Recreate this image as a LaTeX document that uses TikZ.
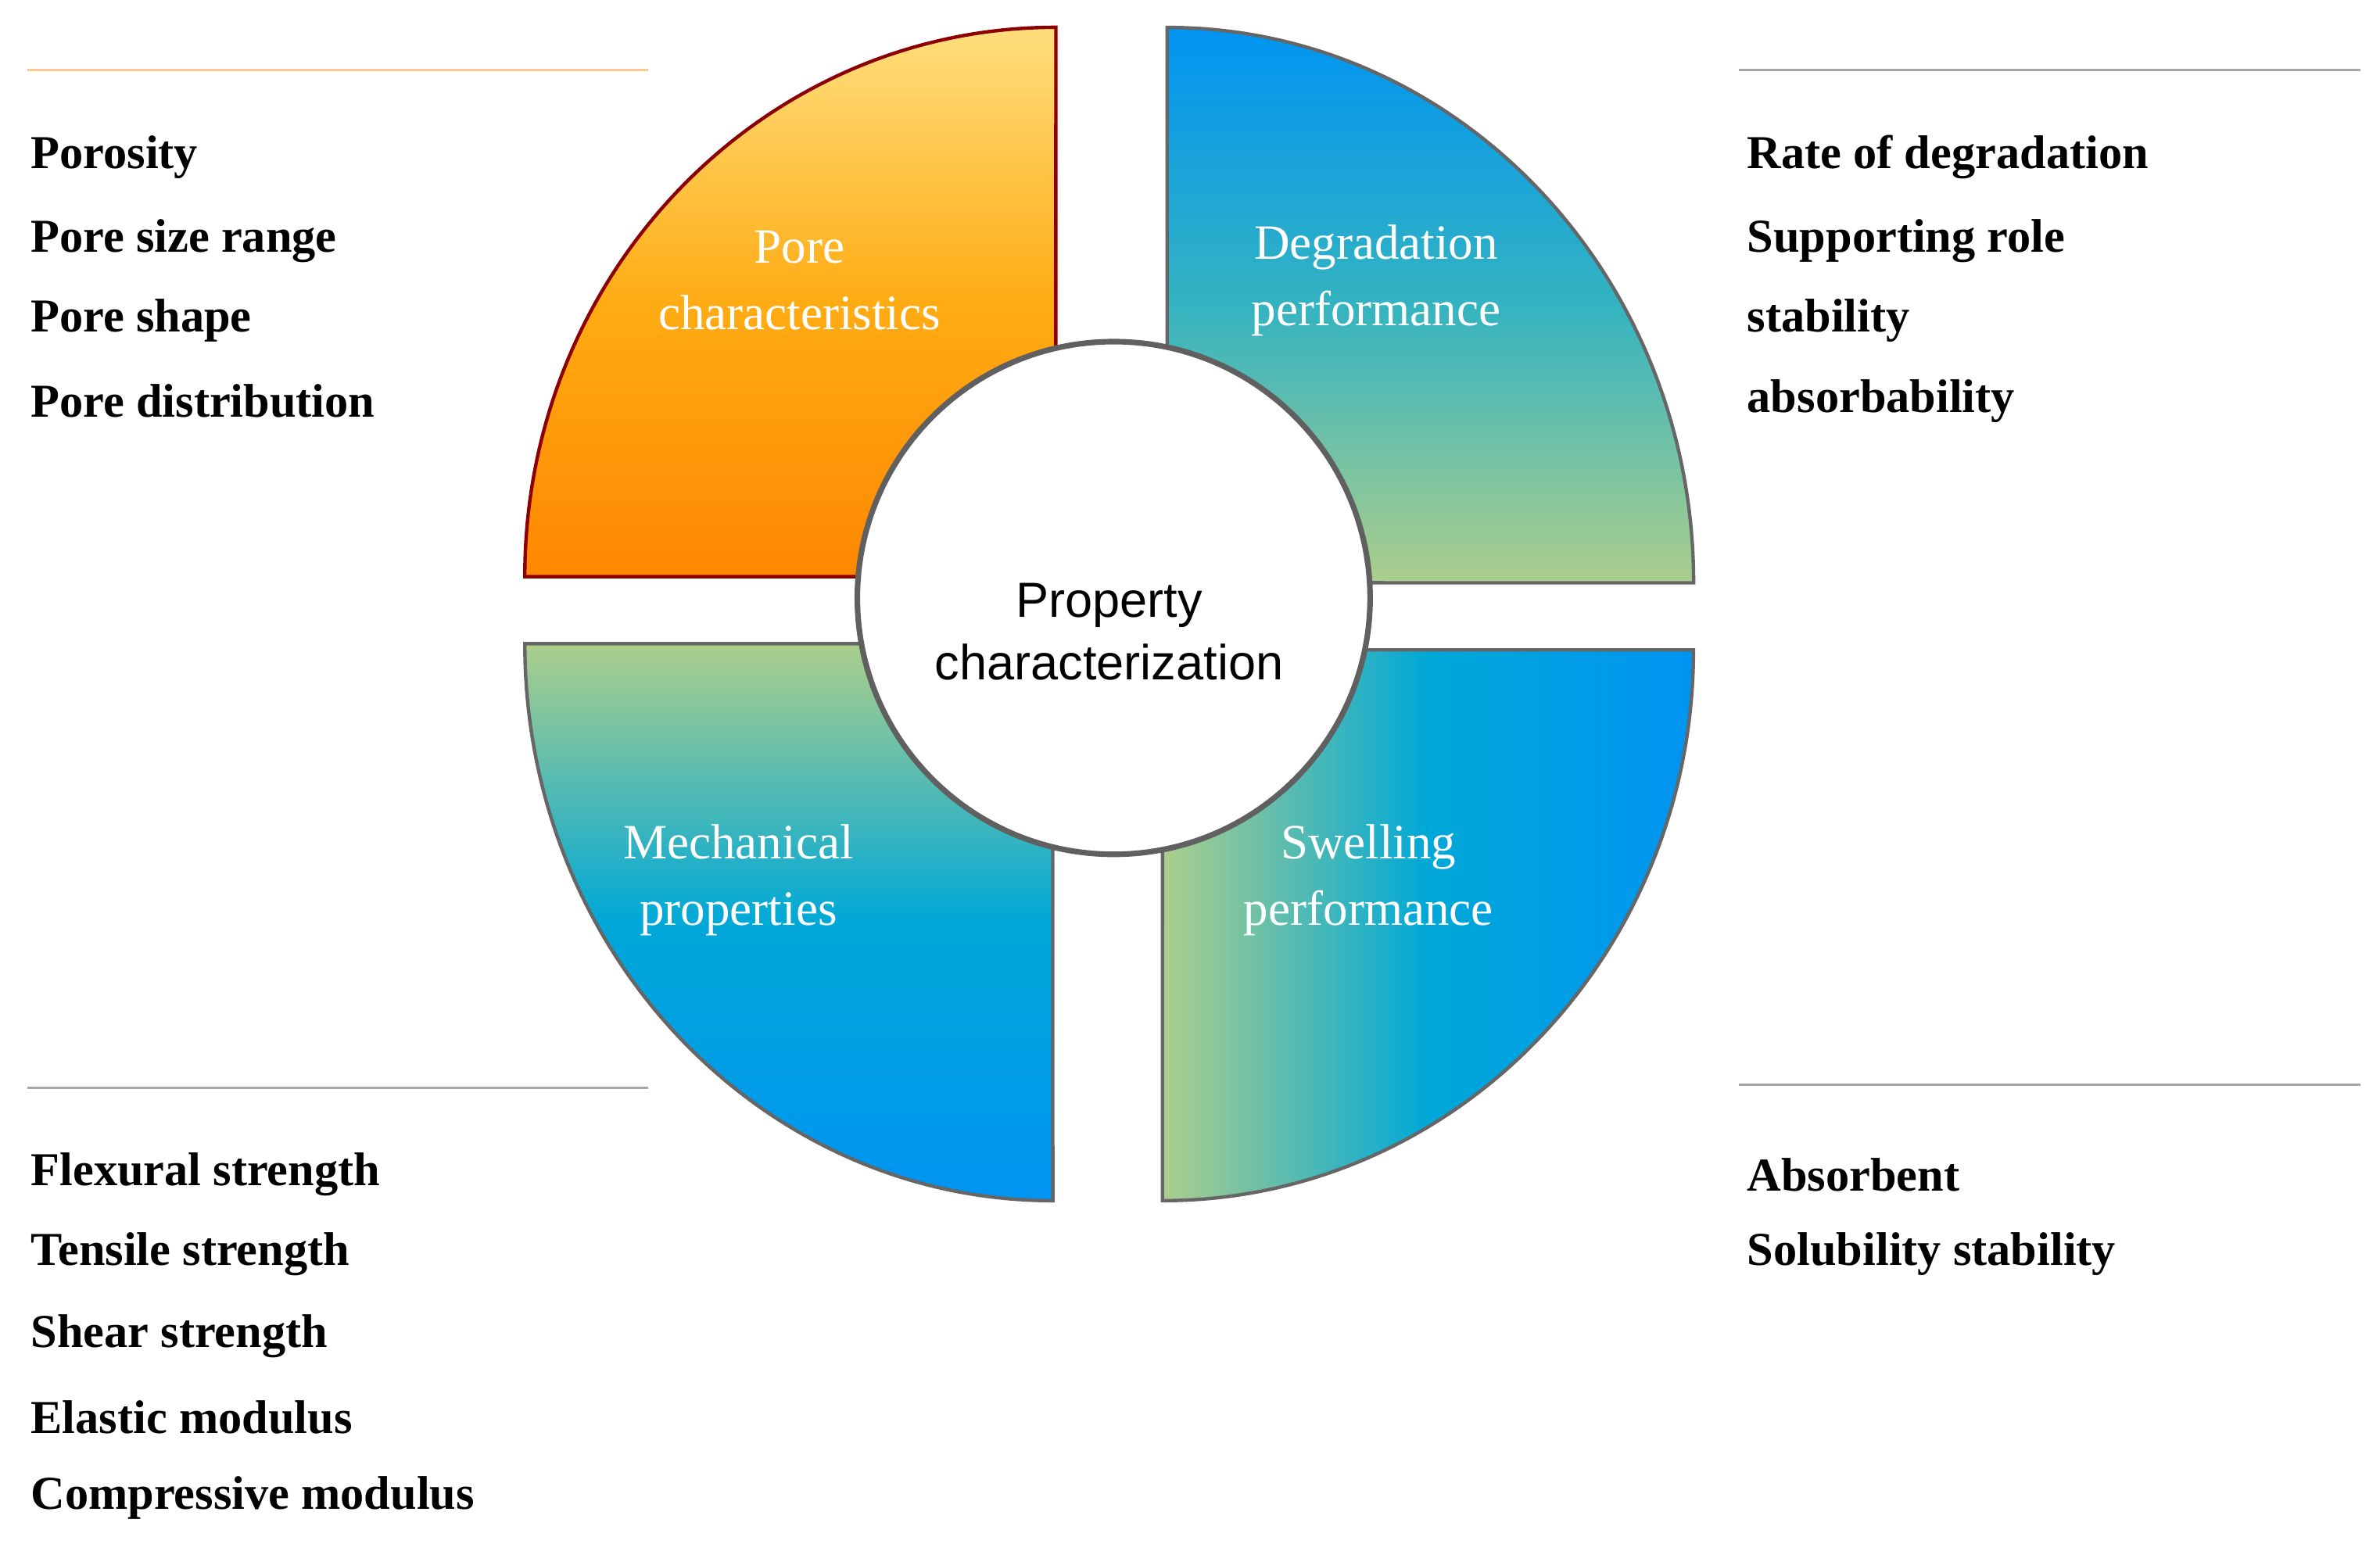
\documentclass[tikz,border=0pt]{standalone}
\usepackage{fontspec}
\setmainfont{Liberation Serif}
\newfontfamily\sansf{Liberation Sans}
\begin{document}
\begin{tikzpicture}[x=0.025cm,y=0.025cm,
  lst/.style={anchor=west,font=\fontsize{22}{26}\selectfont\bfseries,inner sep=0},
  qlab/.style={text=white,font=\fontsize{23}{27}\selectfont,align=center,inner sep=0},
  quad/.style={draw=gray!80!black,line width=1.6pt},
  rule/.style={line width=1.2pt,draw=gray!70}]
\useasboundingbox (0,0) rectangle (1560,1012);
\definecolor{oy}{RGB}{255,222,125}\definecolor{oo}{RGB}{255,135,0}\definecolor{om}{RGB}{255,172,20}
\definecolor{bb}{RGB}{0,148,242}\definecolor{bt}{RGB}{0,168,215}\definecolor{bg}{RGB}{172,206,140}
% quadrants
\path[quad,draw=red!55!black,top color=oy,bottom color=oo,middle color=om] (692,634) -- (344,634) arc[start angle=180,end angle=90,x radius=8.7cm,y radius=9cm] -- cycle;
\path[quad,top color=bb,bottom color=bg,middle color=bt!70!bg] (765,630) -- (765,994) arc[start angle=90,end angle=0,x radius=8.625cm,y radius=9.1cm] -- cycle;
\path[quad,top color=bg,bottom color=bb,middle color=bt] (690,590) -- (344,590) arc[start angle=180,end angle=270,x radius=8.65cm,y radius=9.125cm] -- cycle;
\path[quad,left color=bg,right color=bb,middle color=bt] (762,586) -- (1110,586) arc[start angle=0,end angle=-90,x radius=8.7cm,y radius=9.025cm] -- cycle;
\node[circle,draw=gray!75!black,line width=2.6pt,fill=white,minimum size=8.4cm,inner sep=0] (c) at (730,620) {};
\node[font=\sansf\fontsize{23}{27}\selectfont,align=center] (ct) at (727,598) {Property\\[2pt]characterization};
\node[qlab] (q1) at (524,828) {Pore\\[4pt]characteristics};
\node[qlab] (q2) at (902,828) {Degradation\\[4pt]performance};
\node[qlab] (q3) at (484,435) {Mechanical\\[4pt]properties};
\node[qlab] (q4) at (897,435) {Swelling\\[4pt]performance};
% rules
\draw[rule,draw=orange!45] (18,966) -- (425,966);
\draw[rule] (1140,966) -- (1547,966);
\draw[rule] (18,299) -- (425,299);
\draw[rule] (1140,301) -- (1547,301);
% lists
\node[lst] (l1) at (20,909) {Porosity};
\node[lst] (l2) at (20,854) {Pore size range};
\node[lst] (l3) at (20,802) {Pore shape};
\node[lst] (l4) at (20,749) {Pore distribution};
\node[lst] (r1) at (1145,909) {Rate of degradation};
\node[lst] (r2) at (1145,854) {Supporting role};
\node[lst] (r3) at (1145,802) {stability};
\node[lst] (r4) at (1145,749) {absorbability};
\node[lst] (m1) at (20,242) {Flexural strength};
\node[lst] (m2) at (20,190) {Tensile strength};
\node[lst] (m3) at (20,136) {Shear strength};
\node[lst] (m4) at (20,83) {Elastic modulus};
\node[lst] (m5) at (20,30) {Compressive modulus};
\node[lst] (s1) at (1145,242) {Absorbent};
\node[lst] (s2) at (1145,190) {Solubility stability};
\end{tikzpicture}
\end{document}
